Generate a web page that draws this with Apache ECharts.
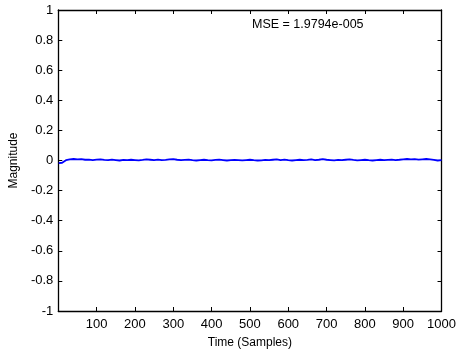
<!DOCTYPE html>
<html><head><meta charset="utf-8">
<script src="https://cdn.jsdelivr.net/npm/echarts@6/dist/echarts.min.js"></script>
<style>html,body{margin:0;padding:0;background:#fff}#c{width:459px;height:354px}</style>
</head><body><div id="c"></div>
<script>
var samples = [1,5,10,15,20,30,40,50,60,70,80,90,100,110,120,130,140,150,160,170,180,190,200,210,220,230,240,250,260,270,280,290,300,310,320,330,340,350,360,370,380,390,400,410,420,430,440,450,460,470,480,490,500,510,520,530,540,550,560,570,580,590,600,610,620,630,640,650,660,670,680,690,700,710,720,730,740,750,760,770,780,790,800,810,820,830,840,850,860,870,880,890,900,910,920,930,940,950,960,970,980,990,1000];
var magnitude = [-0.018,-0.020,-0.015,-0.008,0.002,0.008,0.010,0.007,0.009,0.005,0.006,0.003,0.006,0.008,0.004,0.002,0.006,0.003,0.000,0.004,0.002,0.005,0.003,0.001,0.004,0.008,0.005,0.002,0.006,0.002,0.004,0.007,0.009,0.005,0.002,0.004,0.006,0.002,0.000,0.003,0.005,0.002,0.001,0.004,0.006,0.003,0.000,0.002,0.004,0.003,0.001,0.003,0.005,0.002,0.000,0.001,0.004,0.002,0.005,0.008,0.003,0.006,0.002,0.000,0.003,0.005,0.002,0.004,0.007,0.003,0.005,0.009,0.005,0.003,0.001,0.004,0.002,0.005,0.008,0.004,0.001,0.003,0.005,0.002,0.000,0.003,0.005,0.002,0.004,0.006,0.003,0.005,0.008,0.010,0.007,0.009,0.006,0.008,0.010,0.007,0.004,0.000,0.002];
var xTicks = [100,200,300,400,500,600,700,800,900,1000];
var yTicks = [-1,-0.8,-0.6,-0.4,-0.2,0,0.2,0.4,0.6,0.8,1];
var annotation = 'MSE = 1.9794e-005';

var chart = echarts.init(document.getElementById('c'));
var font = 'Liberation Sans, Arial, sans-serif';
var pts = samples.map(function(s,i){return [s, magnitude[i]];});
var axisBase = {
  axisLine:{show:true, onZero:false, lineStyle:{color:'#000', width:1.3}},
  axisTick:{show:true, inside:true, length:4, lineStyle:{color:'#000', width:1}},
  splitLine:{show:false}
};
chart.setOption({
  animation:false,
  backgroundColor:'#fff',
  grid:{left:58, top:10, right:15, bottom:40, containLabel:false},
  xAxis:[
    Object.assign({type:'value', min:0, max:1000, interval:100, position:'bottom',
      name:'Time (Samples)', nameLocation:'middle', nameGap:26,
      nameTextStyle:{color:'#000', fontSize:12, fontFamily:font},
      axisLabel:{color:'#000', fontSize:13, fontFamily:font, margin:7,
        formatter:function(v){return xTicks.indexOf(v)>=0 ? String(v) : '';}}}, axisBase),
    Object.assign({type:'value', min:0, max:1000, interval:100, position:'top',
      axisLabel:{show:false}}, axisBase)
  ],
  yAxis:[
    Object.assign({type:'value', min:-1, max:1, interval:0.2, position:'left',
      name:'Magnitude', nameLocation:'middle', nameGap:36, nameRotate:90,
      nameTextStyle:{color:'#000', fontSize:12, fontFamily:font},
      axisLabel:{color:'#000', fontSize:13, fontFamily:font, margin:5,
        formatter:function(v){
          for (var i=0;i<yTicks.length;i++){ if (Math.abs(yTicks[i]-v)<1e-9) return String(yTicks[i]); }
          return '';
        }}}, axisBase),
    Object.assign({type:'value', min:-1, max:1, interval:0.2, position:'right',
      axisLabel:{show:false}}, axisBase)
  ],
  graphic:[{type:'text', left:252, top:18, style:{text:annotation, fill:'#000', font:'12.5px '+font}}],
  series:[{type:'line', data:pts, xAxisIndex:0, yAxisIndex:0, showSymbol:false, symbol:'none',
    lineStyle:{color:'#0000ff', width:1.8}, z:3}]
});
</script></body></html>
